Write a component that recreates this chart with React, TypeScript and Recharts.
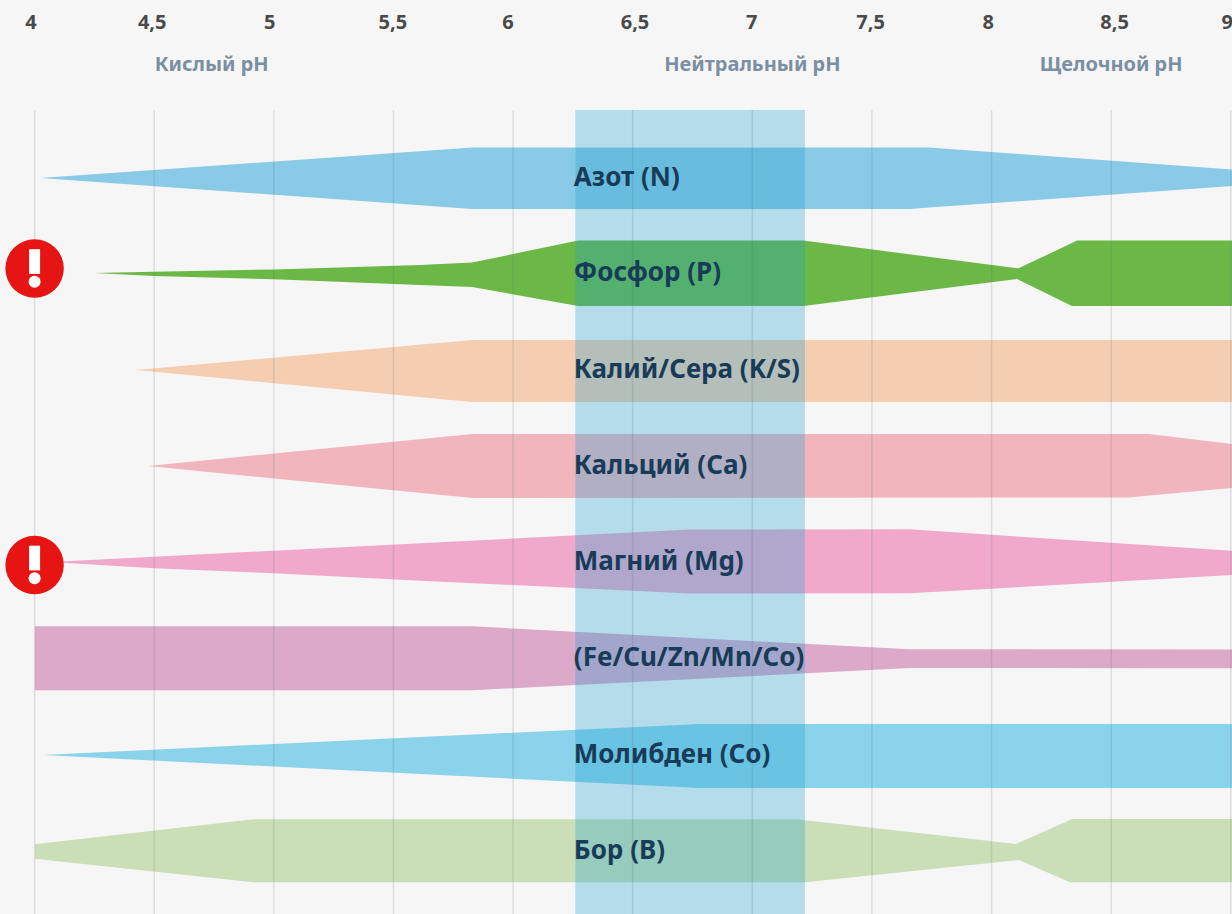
import React from "react";
import { ComposedChart, Area, XAxis, YAxis, ReferenceArea, ReferenceLine, ReferenceDot } from "recharts";

const FONT = "'Noto Sans', sans-serif";

const phTicks = [4, 4.5, 5, 5.5, 6, 6.5, 7, 7.5, 8, 8.5, 9];
const phTickNudge = [-3.6, -2, -4, -0.6, -5, 2.3, -0.6, -1.3, -3.4, 3.4, -3.7];
const zoneTicks = [4.74, 7, 8.5];
const zoneNames = ["Кислый pH", "Нейтральный pH", "Щелочной pH"];
const neutralRange = [6.26, 7.22];

const names = ["Азот (N)", "Фосфор (P)", "Калий/Сера (K/S)", "Кальций (Ca)", "Магний (Mg)", "(Fe/Cu/Zn/Mn/Co)", "Молибден (Co)", "Бор (B)"];
const colors = ["#89cbe6", "#6cb846", "#f5cdb0", "#f1b6bd", "#f1a9cb", "#dca9c9", "#8ad3eb", "#cadfb7"];
const centers = [68, 163, 260, 356, 452, 548, 645, 741];
const alerts = [158.5, 455];

const nPh = [4.024, 5.829, 7.66, 7.739, 9.005];
const nUp = [0, 30.5, 30.5, 30.5, 8.5];
const nDown = [0, 31, 31, 29.6, 8];

const pPh = [4.249, 4.5, 5, 5.612, 5.829, 6.272, 7.213, 8.107, 8.115, 8.336, 8.357, 9.005];
const pUp = [0, 1.3, 3.5, 8, 10.5, 32.5, 32.5, 4.7, 5, 30, 32.5, 32.5];
const pDown = [0, 3, 6.3, 12, 14, 33, 33, 6, 7, 33, 33, 33];

const kPh = [4.425, 5.829, 9.005];
const kUp = [0, 30, 30];
const kDown = [0, 32, 32];

const caPh = [4.475, 5.829, 8.575, 8.658, 9.005];
const caUp = [0, 32, 32, 32, 22];
const caDown = [0, 32, 31.5, 29.5, 22];

const mgPh = [4.066, 4.5, 5, 5.612, 6.74, 7.656, 9.005];
const mgUp = [0, 5.3, 11.3, 18.7, 32.5, 32.7, 11.3];
const mgDown = [0, 6.3, 11.3, 18.7, 31.5, 31.3, 13];

const fePh = [4, 5.829, 7.656, 9.005];
const feUp = [31.7, 31.7, 8.7, 8.5];
const feDown = [32.3, 32.3, 10, 10.3];

const moPh = [4.036, 5.612, 6.74, 6.761, 9.005];
const moUp = [0, 18, 30.5, 31, 31];
const moDown = [0, 19, 32.6, 33, 33];

const bPh = [4, 4.914, 7.187, 7.221, 8.103, 8.114, 8.328, 8.336, 9.005];
const bUp = [6.7, 31.7, 31.7, 30.8, 7, 8.2, 31.1, 32, 32];
const bDown = [7.7, 31.3, 31.3, 31.3, 9.3, 9, 31.3, 31.3, 31.3];

const phs = [nPh, pPh, kPh, caPh, mgPh, fePh, moPh, bPh];
const ups = [nUp, pUp, kUp, caUp, mgUp, feUp, moUp, bUp];
const downs = [nDown, pDown, kDown, caDown, mgDown, feDown, moDown, bDown];

const rows = phs.map((ph, i) =>
  ph.map((x, j) => ({ ph: x, range: [centers[i] - ups[i][j], centers[i] + downs[i][j]] }))
);

const PhTick = (props: any) => {
  const { x, payload, index } = props;
  return (
    <text x={x + phTickNudge[index]} y={29} textAnchor="middle" fontFamily={FONT} fontWeight={700} fontSize={20} fill="#4a4a4a">
      {String(payload.value).replace(".", ",")}
    </text>
  );
};

const ZoneTick = (props: any) => {
  const { x, index } = props;
  return (
    <text x={x} y={71} textAnchor="middle" fontFamily={FONT} fontWeight={700} fontSize={20} fill="#7a8fa3">
      {zoneNames[index]}
    </text>
  );
};

const AlertIcon = (props: any) => {
  const { cx, cy } = props;
  return (
    <g>
      <circle cx={cx} cy={cy} r={29.2} fill="#e61514" />
      <rect x={cx - 5.5} y={cy - 19.3} width={11} height={24.7} fill="#ffffff" />
      <circle cx={cx} cy={cy + 13.3} r={6} fill="#ffffff" />
    </g>
  );
};

const rowLabel = (name: string) => (props: any) => (
  <text x={props.cx} y={props.cy} dy={8.5} fontFamily={FONT} fontWeight={700} fontSize={26} fill="#183b58">
    {name}
  </text>
);

export default function App() {
  return (
    <div style={{ position: "fixed", left: 0, top: 0, width: 1232, height: 914, overflow: "hidden", background: "#f6f6f6" }}>
      <ComposedChart width={1232} height={914} margin={{ top: 0, right: 0, bottom: 0, left: 34.6 }}>
        <XAxis xAxisId="ph" orientation="top" type="number" dataKey="ph" domain={[4, 9.005]} allowDataOverflow ticks={phTicks} interval={0} height={55} axisLine={false} tickLine={false} tick={<PhTick />} />
        <XAxis xAxisId="zone" orientation="top" type="number" dataKey="ph" domain={[4, 9.005]} allowDataOverflow ticks={zoneTicks} interval={0} height={55} axisLine={false} tickLine={false} tick={<ZoneTick />} />
        <YAxis type="number" domain={[0, 804]} reversed hide />
        {rows.map((data, i) => (
          <Area key={names[i]} xAxisId="ph" data={data} dataKey="range" type="linear" stroke="none" fill={colors[i]} fillOpacity={1} isAnimationActive={false} dot={false} activeDot={false} />
        ))}
        <ReferenceArea xAxisId="ph" x1={neutralRange[0]} x2={neutralRange[1]} fill="rgb(30,160,210)" fillOpacity={0.3} stroke="none" />
        {phTicks.map((t) => (
          <ReferenceLine key={t} xAxisId="ph" x={t} stroke="rgba(80,100,110,0.16)" strokeWidth={1.5} />
        ))}
        {names.map((n, i) => (
          <ReferenceDot key={n} xAxisId="ph" x={neutralRange[0] - 0.006} y={centers[i] - 1} r={0} shape={rowLabel(n)} />
        ))}
        {alerts.map((y) => (
          <ReferenceDot key={y} xAxisId="ph" x={4} y={y} shape={AlertIcon} />
        ))}
      </ComposedChart>
    </div>
  );
}
